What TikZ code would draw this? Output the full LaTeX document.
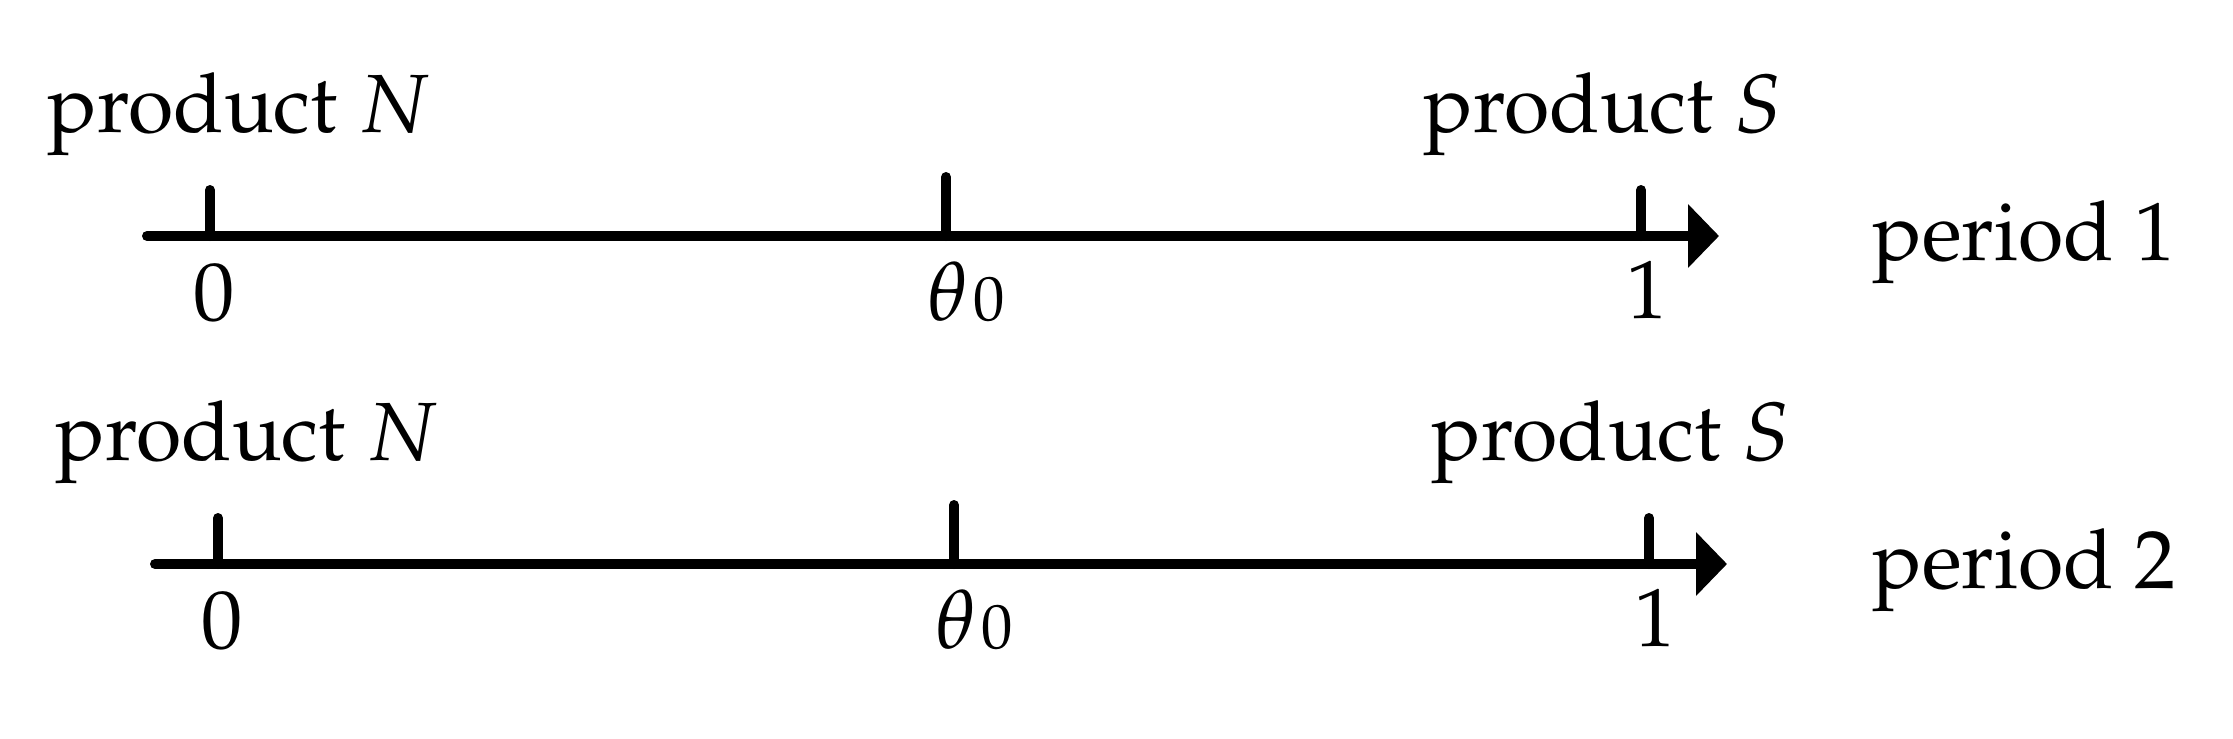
\documentclass[tikz,border=0pt]{standalone}
\usepackage[T1]{fontenc}
\usepackage{mathpazo}
\usetikzlibrary{arrows.meta}
\begin{document}
\begin{tikzpicture}[x=0.1mm,y=-0.1mm,
  axis/.style={line width=1mm,line cap=round,-{Triangle[length=3.1mm,width=6.2mm]}},
  tickmark/.style={line width=1mm,line cap=round},
  lbl/.style={inner sep=0pt,anchor=base,font=\fontsize{23.5}{28}\selectfont}]
  \useasboundingbox (0,0) rectangle (2233,738);

  \foreach \r/\dx/\dy in {1/0/0, 2/8/328} {
    % Draw axis
    \coordinate (s\r) at (147+\dx,236+\dy);
    \coordinate (e\r) at (1719+\dx,236+\dy);
    \draw[axis] (s\r) -- (e\r);

    % ticks 0, theta_0, 1
    \coordinate (z\r) at (210+\dx,236+\dy);
    \coordinate (m\r) at (946+\dx,236+\dy);
    \coordinate (o\r) at (1641+\dx,236+\dy);
    \draw[tickmark] (z\r) -- ++(0,-46);
    \draw[tickmark] (m\r) -- ++(0,-59);
    \draw[tickmark] (o\r) -- ++(0,-46);

    \node[lbl] (zl\r) at (214+\dx,320+\dy) {$0$};
    \node[lbl] (ml\r) at (966+\dx,320+\dy) {$\theta\mkern1mu{\scriptstyle 0}$};
    \node[lbl] (ol\r) at (1647+\dx,318+\dy) {$1$};

    \node[lbl,anchor=base west] (pn\r) at (47+\dx,132+\dy) {product $N$};
    \node[lbl,anchor=base west] (ps\r) at (1423+\dx,132+\dy) {product $S$};
    \node[lbl,anchor=base west] (per\r) at (1872,260+\dy) {period \r};
  }
\end{tikzpicture}
\end{document}
